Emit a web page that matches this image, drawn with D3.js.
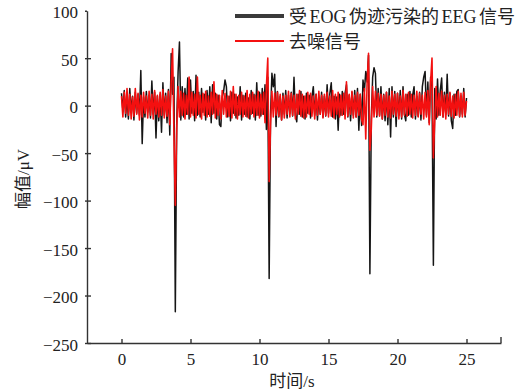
<!DOCTYPE html>
<html>
<head>
<meta charset="utf-8">
<script src="https://cdn.jsdelivr.net/npm/d3@7"></script>
<style>
  body { margin: 0; background: #fff; }
  #chartDiv { width: 530px; height: 392px; }
  .axis path, .axis line { stroke: #333; stroke-width: 1.4px; }
  .axis text { font-family: "Liberation Serif", "Noto Sans CJK SC", serif; font-size: 17px; fill: #222; }
</style>
</head>
<body>
<div id="chartDiv"></div>
<script>
// sample interval (s)
var dt = 0.1

// EEG contaminated by EOG (uV), one row per second
var rawEEG = [
  13,-5,16,-12,8,-14,18,-6,10,-15,
  14,-8,12,-10,37,-40,9,-12,15,-7,
  11,-13,26,-9,14,-34,10,-16,12,-28,
  24,-10,13,-18,17,-31,55,12,30,-217,
  -20,35,67,-15,20,-12,18,-9,29,-14,
  27,-8,15,-16,32,-10,14,-12,18,-7,
  12,-15,16,-9,20,-18,22,-8,13,-14,
  11,-20,-22,9,15,27,20,-12,10,-16,
  14,-8,12,-13,9,-10,20,-15,11,-9,
  13,-12,8,-14,16,-8,12,-15,24,-10,
  14,-11,18,-9,22,-25,30,-182,-10,34,
  20,33,-22,15,-12,10,-15,13,-9,16,
  -13,11,-8,14,-11,30,-10,-17,12,-9,
  15,-12,10,-14,13,-8,11,-13,9,20,
  -10,12,-15,8,-9,14,-12,10,-11,22,
  -8,13,24,-12,10,-14,9,-26,12,-10,
  15,-9,13,22,-12,11,-16,14,-10,16,
  -12,18,-26,12,-21,27,15,36,25,53,
  -177,-15,30,40,34,-12,18,-10,20,-14,
  12,-16,14,-20,18,-33,20,-12,15,-22,
  13,-10,16,-14,20,-9,-16,12,-10,15,
  -12,11,20,-14,10,-11,14,-15,20,30,
  36,-10,25,-18,30,20,-168,18,-14,28,
  -10,16,29,-12,14,-9,33,-11,13,-16,
  -24,12,-10,15,17,-12,10,-9,18,-12,
  8
]

// denoised signal (uV)
var cleanEEG = [
  10,-12,14,-8,18,-10,12,-14,9,-11,
  18,-9,13,-15,11,-12,14,-8,10,-13,
  15,-10,12,-14,16,-9,11,-12,14,-10,
  17,-13,10,-11,15,-20,25,60,-30,-105,
  -25,20,-12,15,-10,13,-14,11,-9,30,
  -12,14,-10,12,-13,30,-9,11,-14,13,
  -10,15,-12,10,-11,14,-9,25,-13,12,
  -10,11,-14,16,-9,13,-12,10,-11,15,
  -13,20,-10,12,-14,11,-9,14,-12,10,
  -11,16,-13,12,-9,14,-12,11,-10,15,
  -13,12,-9,14,-18,20,50,-80,-20,15,
  -12,13,-10,14,-11,12,-15,10,-13,11,
  -9,15,-12,13,-10,11,-14,12,-9,16,
  -11,12,-13,10,-12,14,-9,13,-11,10,
  -14,12,-10,15,-9,11,-13,12,-10,14,
  -12,10,-11,16,-13,12,-9,14,-12,11,
  -10,13,-14,25,-11,12,-9,15,-13,11,
  -12,14,-10,12,-15,-20,18,-35,25,55,
  -47,-25,20,-12,15,-10,13,-11,12,-14,
  11,-10,14,-12,10,-13,15,-9,12,-11,
  13,-14,10,-12,16,-10,12,-11,14,-9,
  12,-13,11,-10,15,-12,13,-9,11,-14,
  14,-12,16,-20,25,50,-55,-15,20,-12,
  13,-10,15,-12,11,-14,12,-9,14,-11,
  10,-13,12,-10,15,-11,13,-12,14,-10,
  5
]

var xTicks = [0, 5, 10, 15, 20, 25]
var yTicks = [100, 50, 0, -50, -100, -150, -200, -250]
var seriesNames = ["受 EOG 伪迹污染的 EEG 信号", "去噪信号"]
var xDomain = [-2.5, 27.5]
var yDomain = [-250, 100]

var margin = {top: 10.7, right: 29, bottom: 49, left: 87}
var W = 530, H = 392
var width = W - margin.left - margin.right
var height = H - margin.top - margin.bottom

var svg = d3.select("#chartDiv").append("svg")
  .attr("width", W)
  .attr("height", H)

var g = svg.append("g")
  .attr("transform", "translate(" + margin.left + "," + margin.top + ")")

var x = d3.scaleLinear().domain(xDomain).range([0, width])
var y = d3.scaleLinear().domain(yDomain).range([height, 0])

// axes
var xAxis = d3.axisBottom(x).tickValues(xTicks).tickSizeInner(4).tickSizeOuter(0).tickPadding(6)
var gx = g.append("g").attr("class", "axis xaxis")
  .attr("transform", "translate(0," + height + ")")
  .call(xAxis)
gx.selectAll(".tick line").attr("y1", 1).attr("y2", -4)
gx.append("line").attr("x1", width).attr("x2", width).attr("y1", 0).attr("y2", -6)

var yAxis = d3.axisLeft(y).tickValues(yTicks).tickSizeInner(3).tickSizeOuter(0).tickPadding(6)
var gy = g.append("g").attr("class", "axis yaxis").call(yAxis)
gy.selectAll(".tick line").attr("x1", 4).attr("x2", -2)
gy.selectAll(".tick text").attr("dy", "0.42em").text(function(d){ return d < 0 ? "\u2212" + Math.abs(d) : d })
gy.select(".tick:first-of-type line").attr("x1", 0)

// lines
var line = d3.line()
  .x(function(d, i){ return x(i * dt) })
  .y(function(d){ return y(d) })

g.append("path").datum(rawEEG)
  .attr("class", "line raw")
  .attr("d", line)
  .style("fill", "none")
  .style("stroke", "#151515")
  .style("stroke-width", "1.5px")
  .style("stroke-linejoin", "round")

g.append("path").datum(cleanEEG)
  .attr("class", "line clean")
  .attr("d", line)
  .style("fill", "none")
  .style("stroke", "#f41010")
  .style("stroke-width", "1.6px")
  .style("stroke-linejoin", "round")

// axis labels
svg.append("text")
  .attr("transform", "translate(29,179) rotate(-90)")
  .attr("text-anchor", "middle")
  .style("font-family", "'Liberation Serif', 'Noto Sans CJK SC', serif")
  .style("font-size", "17px")
  .style("fill", "#222")
  .text("幅值/μV")

svg.append("text")
  .attr("x", 292)
  .attr("y", 387)
  .attr("text-anchor", "middle")
  .style("font-family", "'Liberation Serif', 'Noto Sans CJK SC', serif")
  .style("font-size", "17px")
  .style("fill", "#222")
  .text("时间/s")

// legend
var legendColors = ["#3a3a3a", "#f41010"]
var legendWidths = [4, 2]
var legend = svg.append("g").attr("class", "legend")
seriesNames.forEach(function(name, i){
  var ly = 16 + i * 25
  legend.append("line")
    .attr("x1", 235).attr("x2", 284)
    .attr("y1", ly).attr("y2", ly)
    .style("stroke", legendColors[i])
    .style("stroke-width", legendWidths[i] + "px")
  legend.append("text")
    .attr("x", 289).attr("y", ly + 6.5)
    .style("font-family", "'Liberation Serif', 'Noto Sans CJK SC', serif")
    .style("font-size", "18px")
    .style("word-spacing", "-2px")
    .style("fill", "#222")
    .text(name)
})
</script>
</body>
</html>
